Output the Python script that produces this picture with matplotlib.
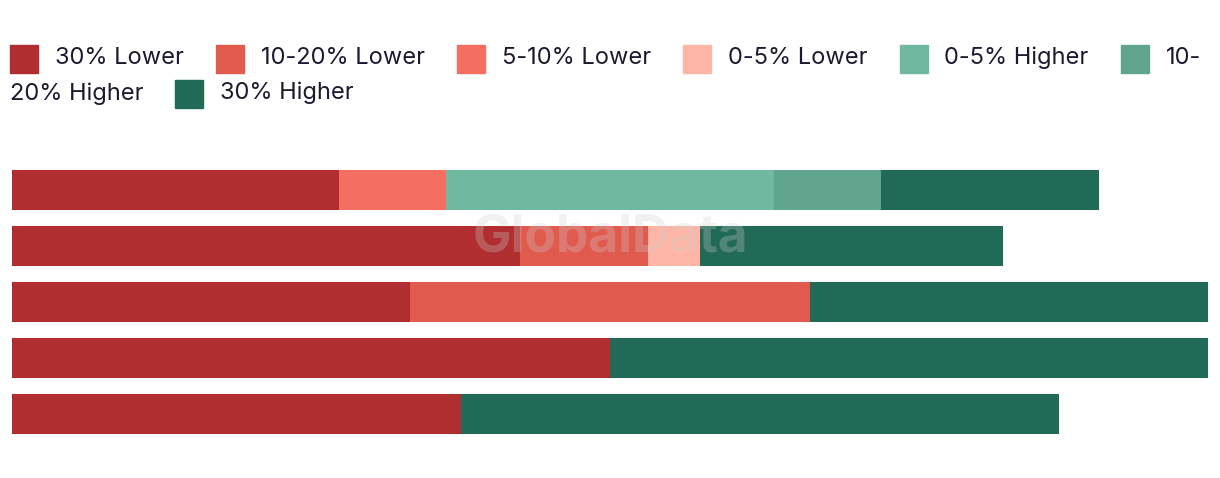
import numpy as np
import matplotlib
matplotlib.use("Agg")
import matplotlib.pyplot as plt
from matplotlib.patches import Rectangle

# Data (share of each bar)
categories = ["Bar 1", "Bar 2", "Bar 3", "Bar 4", "Bar 5"]
series_names = ["30% Lower", "10-20% Lower", "5-10% Lower", "0-5% Lower",
                "0-5% Higher", "10-20% Higher", "30% Higher"]
lower_30 = [27.3, 42.5, 33.3, 50.0, 37.5]
lower_10_20 = [0.0, 10.7, 33.4, 0.0, 0.0]
lower_5_10 = [9.0, 0.0, 0.0, 0.0, 0.0]
lower_0_5 = [0.0, 4.3, 0.0, 0.0, 0.0]
higher_0_5 = [27.4, 0.0, 0.0, 0.0, 0.0]
higher_10_20 = [9.0, 0.0, 0.0, 0.0, 0.0]
higher_30 = [18.2, 25.4, 33.3, 50.0, 50.0]

colors = ["#b02e2f", "#e05a4e", "#f46e61", "#ffb5a5",
          "#70b9a0", "#5fa58e", "#216a57"]

W, H = 1220, 478
fig = plt.figure(figsize=(W / 100, H / 100), dpi=100)
plt.rcParams['font.family'] = ['Inter', 'DejaVu Sans']

# bars
ax = fig.add_axes([12 / W, 1 - 442 / H, 1196 / W, 280 / H])
series = [lower_30, lower_10_20, lower_5_10, lower_0_5,
          higher_0_5, higher_10_20, higher_30]
y = np.arange(len(categories))
left = np.zeros(len(categories))
for vals, col in zip(series, colors):
    vals = np.array(vals)
    ax.barh(y, vals, left=left, height=0.714, color=col, linewidth=0)
    left += vals
ax.set_xlim(0, 100)
ax.set_ylim(len(categories) - 0.5, -0.5)
ax.axis('off')

# watermark
fig.text(610 / W, 1 - 239 / H, "GlobalData", ha='center', va='center',
         fontsize=37, fontweight='bold', color='#d0d0d0', alpha=0.28)

# legend, laid out like wrapped html text
fig.canvas.draw()
renderer = fig.canvas.get_renderer()
fsize = 17
text_col = "#1b1b2f"
row_y = [59, 94]
max_x = 1210
gap = 32


def text_width(s):
    t = fig.text(0, 0, s, fontsize=fsize)
    w = t.get_window_extent(renderer).width
    t.remove()
    return w


x = 10
row = 0
for name, col in zip(series_names, colors):
    full_w = 28 + 17 + text_width(name)
    if x + full_w > max_x and x > 10:
        if "-" in name and x + 45 + text_width(name.split("-")[0] + "-") <= max_x:
            first = name.split("-")[0] + "-"
            rest = name[len(first):]
            fig.patches.append(Rectangle(((x) / W, 1 - (row_y[row] + 14) / H),
                                         28 / W, 28 / H, color=col,
                                         transform=fig.transFigure))
            fig.text((x + 45) / W, 1 - (row_y[row] - 1) / H, first,
                     fontsize=fsize, color=text_col, va='center')
            row += 1
            fig.text(10 / W, 1 - (row_y[row] - 0) / H, rest,
                     fontsize=fsize, color=text_col, va='center')
            x = 10 + text_width(rest) + gap
            continue
        row += 1
        x = 10
    fig.patches.append(Rectangle((x / W, 1 - (row_y[row] + 14) / H),
                                 28 / W, 28 / H, color=col,
                                 transform=fig.transFigure))
    fig.text((x + 45) / W, 1 - (row_y[row] - 1) / H, name,
             fontsize=fsize, color=text_col, va='center')
    x += full_w + gap

fig.savefig("out.png", dpi=100)
